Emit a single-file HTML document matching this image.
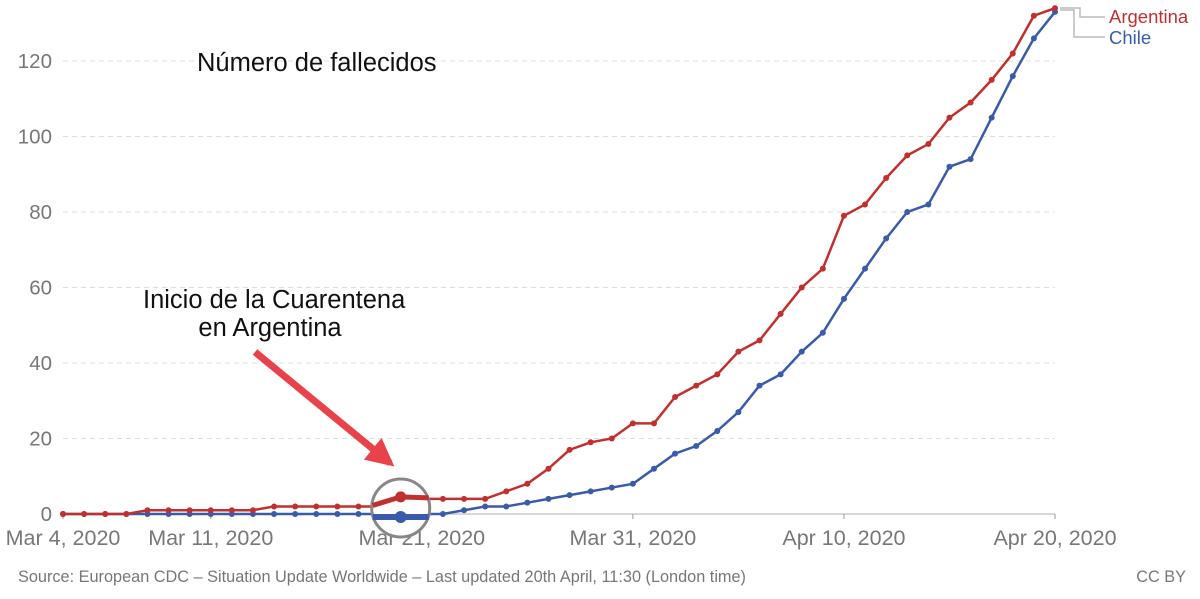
<!DOCTYPE html>
<html><head><meta charset="utf-8"><style>
body{margin:0;background:#fff;}
svg{display:block;font-family:"Liberation Sans",sans-serif;}
</style></head><body>
<svg id="chart" width="1200" height="599" viewBox="0 0 1200 599">
<defs><marker id="ah" viewBox="0 0 10 10" refX="8" refY="5" markerWidth="4" markerHeight="4" orient="auto"><path d="M0,0 L10,5 L0,10 z" fill="#e8424a"/></marker></defs>
<g id="grid"></g>
<g id="xaxis"></g>
<g id="yaxis"></g>
<g id="series"></g>
<text x="197" y="71" font-size="25.5" fill="#111">Número de fallecidos</text>
<text x="143" y="308" font-size="25.5" fill="#111">Inicio de la Cuarentena</text>
<text x="270" y="336" font-size="25.5" fill="#111" text-anchor="middle">en Argentina</text>
<line x1="255" y1="352" x2="390" y2="463" stroke="#e8424a" stroke-width="7" marker-end="url(#ah)"/>
<text x="18" y="582" font-size="16.3" fill="#777">Source: European CDC – Situation Update Worldwide – Last updated 20th April, 11:30 (London time)</text>
<text x="1186" y="582" font-size="16.3" fill="#777" text-anchor="end">CC BY</text>
<g>
<polyline points="1060,8 1080,8 1080,17 1105,17" fill="none" stroke="#bbb" stroke-width="1.5"/>
<polyline points="1060,10 1074,10 1074,37 1105,37" fill="none" stroke="#bbb" stroke-width="1.5"/>
<text x="1109" y="23" font-size="18.5" fill="#c0302f">Argentina</text>
<text x="1109" y="44" font-size="18.5" fill="#3a5ba9">Chile</text>
</g>
</svg>
<script>
const dateLabels = ["Mar 4, 2020","Mar 11, 2020","Mar 21, 2020","Mar 31, 2020","Apr 10, 2020","Apr 20, 2020"];
const dateLabelDays = [0,7,17,27,37,47];
const yTicks = [0,20,40,60,80,100,120];
const argentina = [0,0,0,0,1,1,1,1,1,1,2,2,2,2,2,2,4,4,4,4,4,6,8,12,17,19,20,24,24,31,34,37,43,46,53,60,65,79,82,89,95,98,105,109,115,122,132,134];
const chile = [0,0,0,0,0,0,0,0,0,0,0,0,0,0,0,0,0,0,0,1,2,2,3,4,5,6,7,8,12,16,18,22,27,34,37,43,48,57,65,73,80,82,92,94,105,116,126,133];
const highlightDay = 16;

const NS="http://www.w3.org/2000/svg";
const x0=63,x1=1055,yb=514,yPer=(514-61)/120;
const X=d=>x0+(x1-x0)*d/(argentina.length-1);
const Y=v=>yb-v*yPer;
function mk(t,a,p){const e=document.createElementNS(NS,t);for(const k in a)e.setAttribute(k,a[k]);p.appendChild(e);return e;}
const grid=document.getElementById('grid'),xa=document.getElementById('xaxis'),ya=document.getElementById('yaxis'),se=document.getElementById('series');
yTicks.forEach(v=>{
  if(v>0){const l=mk('line',{x1:x0,x2:x1,y1:Y(v),y2:Y(v),stroke:'#ddd','stroke-dasharray':'5,4'},grid);
  
  }
  const t=mk('text',{x:52,y:Y(v)+7,'font-size':20.5,fill:'#777','text-anchor':'end'},ya);t.textContent=v;
  
  
});
const ax=mk('line',{x1:x0,x2:x1,y1:yb,y2:yb,stroke:'#ccc','stroke-width':1.5},xa);


dateLabels.forEach((s,i)=>{
  const x=X(dateLabelDays[i]);
  mk('line',{x1:x,x2:x,y1:yb,y2:yb+5,stroke:'#999'},xa);
  const t=mk('text',{x:x,y:545,'font-size':21.5,fill:'#777','text-anchor':'middle'},xa);t.textContent=s;
  
  
});
function draw(data,color,name){
  const g=mk('g',{},se);
  
  
  const p=mk('polyline',{points:data.map((v,i)=>X(i)+','+Y(v)).join(' '),fill:'none',stroke:color,'stroke-width':2.5},g);
  
  
  data.forEach((v,i)=>{const c=mk('circle',{cx:X(i),cy:Y(v),r:3,fill:color},g);
    
    });
}
draw(chile,'#3a5ba9','chile');
draw(argentina,'#c0302f','argentina');
const hx=X(highlightDay);
const hg=mk('g',{},se);


mk('circle',{cx:hx,cy:508,r:29,fill:'#fff',stroke:'#888','stroke-width':3},hg);
mk('line',{x1:hx-28,x2:hx+28,y1:Y(chile[highlightDay])+3,y2:Y(chile[highlightDay])+3,stroke:'#3a5ba9','stroke-width':6},hg);
mk('circle',{cx:hx,cy:Y(chile[highlightDay])+3,r:6,fill:'#3a5ba9'},hg);
mk('polyline',{points:(hx-28)+','+(Y(argentina[highlightDay-1])-1)+' '+hx+','+(Y(argentina[highlightDay])-2)+' '+(hx+28)+','+(Y(argentina[highlightDay+1])-1),fill:'none',stroke:'#c0302f','stroke-width':5},hg);
mk('circle',{cx:hx,cy:Y(argentina[highlightDay])-2,r:5.5,fill:'#c0302f'},hg);
</script>
</body></html>
